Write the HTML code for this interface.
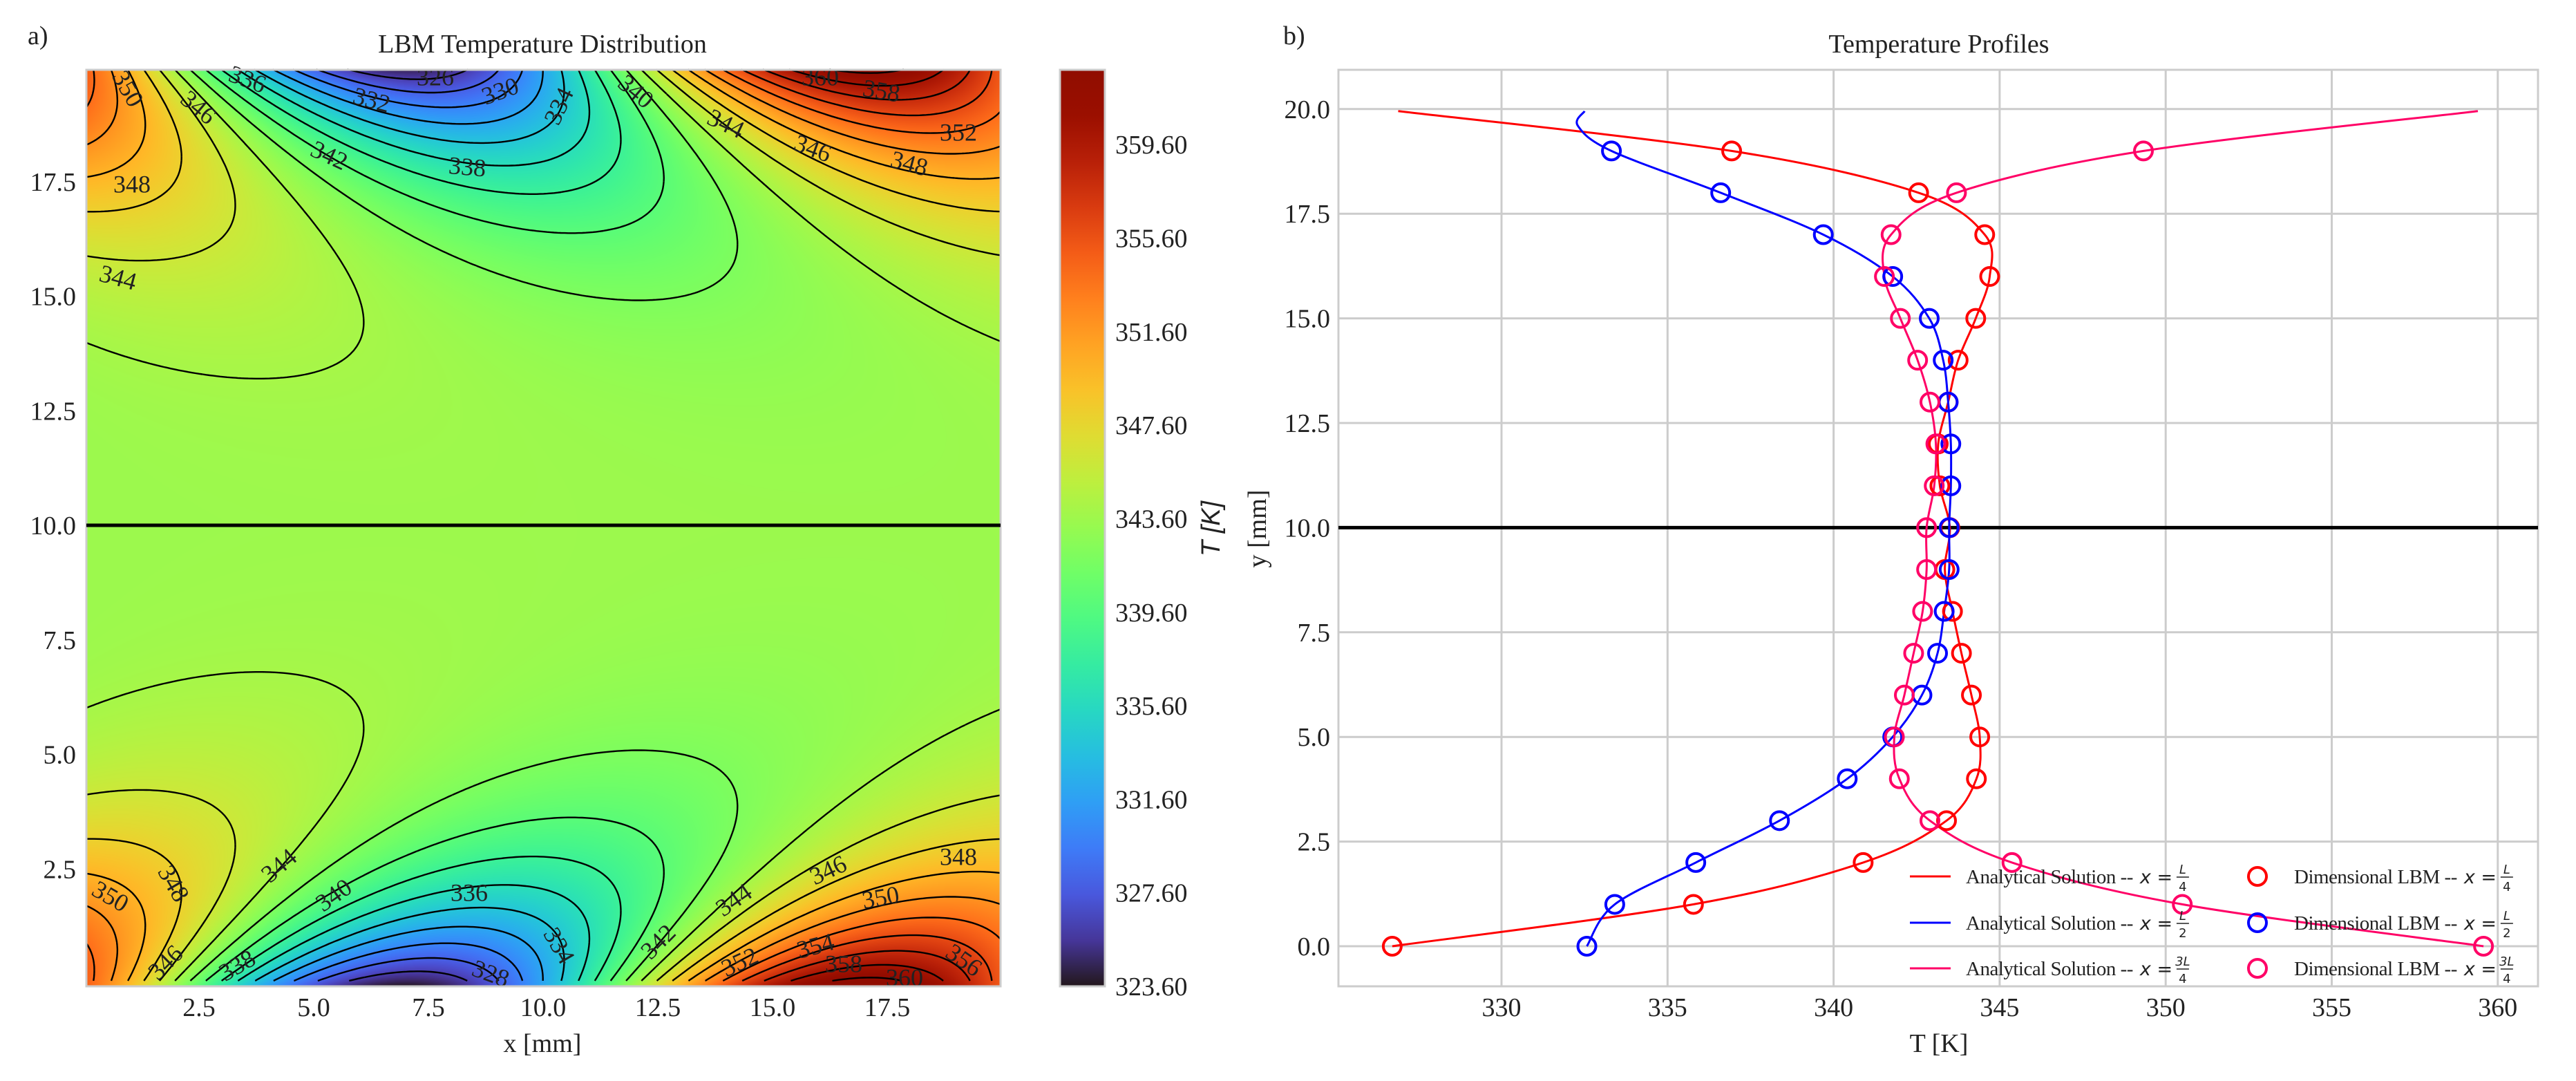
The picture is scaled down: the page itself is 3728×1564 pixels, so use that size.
<!DOCTYPE html>
<html><head><meta charset="utf-8">
<style>
html,body{margin:0;padding:0;background:#fff;}
#wrap{position:relative;width:3728px;height:1564px;overflow:hidden;background:#fff;}
#heat{position:absolute;left:125px;top:101px;}
svg{position:absolute;left:0;top:0;}
text{font-family:"Liberation Serif","DejaVu Serif",serif;fill:#222;}
</style></head>
<body>
<div id="wrap">
<canvas id="heat" width="1323" height="1326"></canvas>
<svg id="svg" width="3728" height="1564" xmlns="http://www.w3.org/2000/svg">
<defs><linearGradient id="cbgrad" x1="0" y1="1" x2="0" y2="0"></linearGradient></defs>
<text x="40" y="64" font-size="38">a)</text>
<text x="785" y="76" font-size="38" text-anchor="middle">LBM Temperature Distribution</text>
<text x="1857" y="64" font-size="38">b)</text>
<text x="2806" y="76" font-size="38" text-anchor="middle">Temperature Profiles</text>
<text x="785" y="1522" font-size="38" text-anchor="middle">x [mm]</text>
<text x="2806" y="1522" font-size="38" text-anchor="middle">T [K]</text>
<text transform="translate(1832,765) rotate(-90)" font-size="38" text-anchor="middle">y [mm]</text>
<text transform="translate(1765,765) rotate(-90)" font-size="38" font-style="italic" text-anchor="middle" style="font-family:'Liberation Sans',sans-serif">T [K]</text>
<g id="contours"></g>
<g id="clabels"></g>
<g id="leftaxes"></g>
<g id="cbar"></g>
<g id="rightaxes"></g>
<g id="legend"></g>
</svg>
</div>
<script>
// ---------- data ----------
const fieldMean = 343.5;
const fieldAmp = 19.5;
const fieldDecay = 2.5;
const fieldGaussDecay = 7;
const fieldPeakX = 17;
const contourLevels = [324,326,328,330,332,334,336,338,340,342,344,346,348,350,352,354,356,358,360,362];
const cbarTicks = [323.6,327.6,331.6,335.6,339.6,343.6,347.6,351.6,355.6,359.6];
const leftXTicks = [2.5,5.0,7.5,10.0,12.5,15.0,17.5];
const leftYTicks = [2.5,5.0,7.5,10.0,12.5,15.0,17.5];
const rightXTicks = [330,335,340,345,350,355,360];
const rightYTicks = [0.0,2.5,5.0,7.5,10.0,12.5,15.0,17.5,20.0];
const markerY = [0,1,2,3,4,5,6,7,8,9,10,11,12,13,14,15,16,17,18,19];
const lbmQuarter = [326.71,335.78,340.89,343.40,344.30,344.40,344.15,343.85,343.58,343.35,343.50,343.20,343.15,343.45,343.75,344.28,344.70,344.55,342.56,336.93];
const lbmHalf = [332.57,333.41,335.85,338.37,340.41,341.78,342.66,343.13,343.33,343.48,343.48,343.53,343.53,343.45,343.30,342.88,341.78,339.69,336.60,333.31];
const lbmThreeQ = [359.57,350.50,345.37,342.90,341.98,341.83,342.13,342.41,342.68,342.80,342.80,343.03,343.08,342.90,342.53,342.01,341.53,341.73,343.70,349.33];
const endQuarterY = [19.95]; const endQuarterT = [326.89];
const endHalfY = [19.6,19.95]; const endHalfT = [332.3,332.5];
const endThreeQY = [19.95]; const endThreeQT = [359.4];

// ---------- scales ----------
const vmin = 323.6, vmax = 362.8;
const lx = x => 122 + 66.4*x;
const ly = y => 1423 - 66.3*y;
const cy = v => 1427 - (v - vmin)*(1326/(vmax-vmin));
const rx = t => 2173 + (t-330)*48.06;
const ry = y => 1369 - 60.56*y;
const NS = "http://www.w3.org/2000/svg";
function mk(tag, attrs, parent){const e=document.createElementNS(NS,tag);for(const k in attrs)e.setAttribute(k,attrs[k]);parent.appendChild(e);return e;}

function turbo(t){t=Math.max(0,Math.min(1,t));
 const r=0.13572138+t*(4.61539260+t*(-42.66032258+t*(132.13108234+t*(-152.94239396+t*59.28637943))));
 const g=0.09140261+t*(2.19418839+t*(4.84296658+t*(-14.18503333+t*(4.27729857+t*2.82956604))));
 const b=0.10667330+t*(12.64194608+t*(-60.58204836+t*(110.36276771+t*(-89.90310912+t*27.34824973))));
 return [Math.round(255*Math.max(0,Math.min(1,r))),Math.round(255*Math.max(0,Math.min(1,g))),Math.round(255*Math.max(0,Math.min(1,b)))];}
function field(x,y){const d=Math.min(y,20-y);
 return fieldMean + fieldAmp*Math.exp(-d/fieldDecay - (d/fieldGaussDecay)*(d/fieldGaussDecay))*Math.cos(2*Math.PI*(x-fieldPeakX-d)/20);}

// ---------- heatmap ----------
const cv=document.getElementById('heat'),ctx=cv.getContext('2d');
const W=cv.width,H=cv.height,img=ctx.createImageData(W,H);
for(let j=0;j<H;j++){const y=(1423-(101+j))/66.3;
 for(let i=0;i<W;i++){const x=(125+i-122)/66.4;const c=turbo((field(x,y)-vmin)/(vmax-vmin));const p=4*(j*W+i);
  img.data[p]=c[0];img.data[p+1]=c[1];img.data[p+2]=c[2];img.data[p+3]=255;}}
ctx.putImageData(img,0,0);

// ---------- contours ----------
const cg=document.getElementById('contours');
const N=260,x0=0.05,x1=19.97,y0=0.06,y1=19.95;
const gx=[],gy=[],gv=[];
for(let i=0;i<=N;i++){gx.push(x0+(x1-x0)*i/N);gy.push(y0+(y1-y0)*i/N);}
for(let j=0;j<=N;j++){gv.push([]);for(let i=0;i<=N;i++)gv[j].push(field(gx[i],gy[j]));}
contourLevels.forEach(L=>{let d='';
 for(let j=0;j<N;j++)for(let i=0;i<N;i++){
  const a=gv[j][i],b=gv[j][i+1],c=gv[j+1][i+1],e=gv[j+1][i];
  const pts=[];
  const edge=(va,vb,xa,ya,xb,yb)=>{if((va<L)!==(vb<L)){const t=(L-va)/(vb-va);pts.push([lx(xa+(xb-xa)*t),ly(ya+(yb-ya)*t)]);}};
  edge(a,b,gx[i],gy[j],gx[i+1],gy[j]);
  edge(b,c,gx[i+1],gy[j],gx[i+1],gy[j+1]);
  edge(c,e,gx[i+1],gy[j+1],gx[i],gy[j+1]);
  edge(e,a,gx[i],gy[j+1],gx[i],gy[j]);
  for(let k=0;k+1<pts.length;k+=2)d+='M'+pts[k][0].toFixed(1)+' '+pts[k][1].toFixed(1)+'L'+pts[k+1][0].toFixed(1)+' '+pts[k+1][1].toFixed(1);
 }
 const p=mk('path',{d:d,stroke:'#000','stroke-width':2.4,fill:'none'},cg);
 
 
});

const clabels=[["350",182,130,60],["346",285,158,40],["348",191,270,0],["344",170,405,15],["342",475,228,25],["336",357,118,20],["332",537,148,15],["326",630,115,0],["330",725,135,-20],["334",812,155,-65],["338",676,245,5],["340",918,135,40],["344",1049,182,25],["346",1175,218,20],["348",1315,240,15],["352",1387,195,0],["358",1275,135,10],["360",1187,115,0],
["350",158,1300,30],["348",248,1280,60],["346",242,1395,-45],["344",406,1255,-40],["340",485,1298,-35],["336",679,1295,0],["338",345,1400,-30],["334",806,1370,60],["328",709,1412,20],["342",955,1365,-45],["344",1064,1305,-35],["346",1200,1262,-25],["348",1387,1243,0],["350",1275,1302,-10],["352",1072,1395,-25],["354",1181,1372,-15],["356",1393,1392,35],["358",1221,1398,0],["360",1309,1418,0]];
const clg=document.getElementById('clabels');
clabels.forEach(l=>{const t=mk('text',{transform:`translate(${l[1]},${l[2]}) rotate(${l[3]})`,'font-size':36,'text-anchor':'middle','dominant-baseline':'middle'},clg);t.textContent=l[0];
 
 });

// left axes
const la=document.getElementById('leftaxes');
mk('rect',{x:125,y:101,width:1323,height:1326,fill:'none',stroke:'#ccc','stroke-width':3},la);
const mid=mk('line',{x1:125,x2:1448,y1:ly(10),y2:ly(10),stroke:'#000','stroke-width':5},la);

leftXTicks.forEach(v=>{const t=mk('text',{x:lx(v),y:1470,'font-size':38,'text-anchor':'middle'},la);t.textContent=v.toFixed(1);
 
 });
leftYTicks.forEach(v=>{const t=mk('text',{x:110,y:ly(v)+13,'font-size':38,'text-anchor':'end'},la);t.textContent=v.toFixed(1);
 
 });

// colorbar
const gr=document.getElementById('cbgrad');
for(let k=0;k<=20;k++){mk('stop',{offset:k/20,'stop-color':'rgb('+turbo(k/20).join(',')+')'},gr);}
const cb=document.getElementById('cbar');
mk('rect',{x:1534,y:101,width:65,height:1326,fill:'url(#cbgrad)',stroke:'#ccc','stroke-width':3},cb);
cbarTicks.forEach(v=>{const t=mk('text',{x:1614,y:cy(v)+13,'font-size':38},cb);t.textContent=v.toFixed(2);
 
 });

// right axes
const ra=document.getElementById('rightaxes');
rightXTicks.forEach(v=>{const g=mk('line',{x1:rx(v),x2:rx(v),y1:101,y2:1427,stroke:'#ccc','stroke-width':3},ra);
 
 const t=mk('text',{x:rx(v),y:1470,'font-size':38,'text-anchor':'middle'},ra);t.textContent=v;
 
 });
rightYTicks.forEach(v=>{const g=mk('line',{x1:1937,x2:3673,y1:ry(v),y2:ry(v),stroke:'#ccc','stroke-width':3},ra);
 
 const t=mk('text',{x:1925,y:ry(v)+13,'font-size':38,'text-anchor':'end'},ra);t.textContent=v.toFixed(1);
 
 });
mk('rect',{x:1937,y:101,width:1736,height:1326,fill:'none',stroke:'#ccc','stroke-width':3},ra);
const mid2=mk('line',{x1:1937,x2:3673,y1:ry(10),y2:ry(10),stroke:'#000','stroke-width':5},ra);


function smooth(pts){let d='M'+pts[0][0]+' '+pts[0][1];
 for(let i=0;i<pts.length-1;i++){const p0=pts[Math.max(0,i-1)],p1=pts[i],p2=pts[i+1],p3=pts[Math.min(pts.length-1,i+2)];
  const c1=[p1[0]+(p2[0]-p0[0])/6,p1[1]+(p2[1]-p0[1])/6],c2=[p2[0]-(p3[0]-p1[0])/6,p2[1]-(p3[1]-p1[1])/6];
  d+='C'+c1[0].toFixed(1)+' '+c1[1].toFixed(1)+' '+c2[0].toFixed(1)+' '+c2[1].toFixed(1)+' '+p2[0].toFixed(1)+' '+p2[1].toFixed(1);}
 return d;}
const series=[[lbmQuarter,endQuarterY,endQuarterT,'#ff0000','quarter'],[lbmHalf,endHalfY,endHalfT,'#0000ff','half'],[lbmThreeQ,endThreeQY,endThreeQT,'#ff0066','three-quarter']];
series.forEach(s=>{const pts=markerY.map((y,i)=>[rx(s[0][i]),ry(y)]);s[1].forEach((y,i)=>pts.push([rx(s[2][i]),ry(y)]));
 const p=mk('path',{d:smooth(pts),stroke:s[3],'stroke-width':3,fill:'none'},ra);
 
 });
series.forEach(s=>{markerY.forEach((y,i)=>{const c=mk('circle',{cx:rx(s[0][i]),cy:ry(y),r:13,stroke:s[3],'stroke-width':4,fill:'none'},ra);
 
 });});

// legend
const lg=document.getElementById('legend');
const legRows=[['#ff0000','L','4'],['#0000ff','L','2'],['#ff0066','3L','4']];
legRows.forEach((r,i)=>{const y=1240+[28,95,161][i];
 const l=mk('line',{x1:2764,x2:2823,y1:y,y2:y,stroke:r[0],'stroke-width':3},lg);
 
 const c=mk('circle',{cx:3267,cy:y,r:13,stroke:r[0],'stroke-width':4,fill:'none'},lg);
 
 [[2845,'Analytical Solution --'],[3320,'Dimensional LBM --']].forEach(q=>{
  const t=mk('text',{x:q[0],y:y+10,'font-size':29,style:'letter-spacing:-0.5px'},lg);t.textContent=q[1];
  
  
  let w=0;try{w=t.getComputedTextLength();}catch(e){w=230;}
  const xs=q[0]+w+10;
  const xx=mk('text',{x:xs,y:y+10,'font-size':27,'font-style':'italic',style:"font-family:'DejaVu Sans',sans-serif"},lg);xx.textContent='x =';
  const fx=xs+62;
  const n=mk('text',{x:fx,y:y-4,'font-size':18,'font-style':'italic','text-anchor':'middle',style:"font-family:'DejaVu Sans',sans-serif"},lg);n.textContent=r[1];
  mk('line',{x1:fx-9,x2:fx+9,y1:y+1,y2:y+1,stroke:'#222','stroke-width':1.5},lg);
  const dn=mk('text',{x:fx,y:y+21,'font-size':18,'text-anchor':'middle',style:"font-family:'DejaVu Sans',sans-serif"},lg);dn.textContent=r[2];
 });
});
</script>
</body></html>
